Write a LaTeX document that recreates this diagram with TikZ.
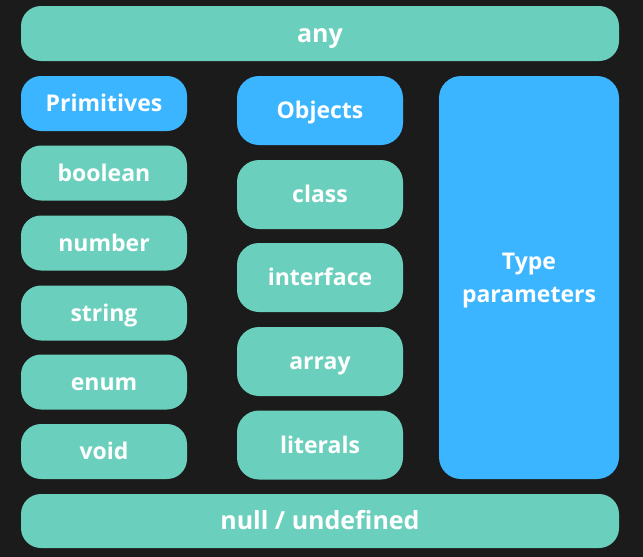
\documentclass[tikz,border=0pt]{standalone}
\usepackage{fontspec}
\setmainfont{Open Sans}
\definecolor{bg}{HTML}{1B1B1B}
\definecolor{teal}{HTML}{6BCFBD}
\definecolor{sky}{HTML}{3BB5FF}
\begin{document}
\begin{tikzpicture}[x=1pt,y=-1pt,
  box/.style={rounded corners=20pt,inner sep=0pt,text=white,align=center,
    font=\fontsize{23}{33.4}\selectfont\bfseries,text height=16.4pt,text depth=0pt},
  tbox/.style={box,fill=teal},
  bbox/.style={box,fill=sky},
  sm/.style={minimum width=166pt,minimum height=55pt},
  md/.style={minimum width=166pt,minimum height=69pt,rounded corners=22pt},
  wide/.style={minimum width=598pt,minimum height=55pt,
    font=\fontsize{25}{33.4}\selectfont\bfseries,text height=17.9pt}]
\fill[bg] (0,0) rectangle (643,557);
\useasboundingbox (0,0) rectangle (643,557);
\node[tbox,wide] (any) at (320,33.5) {any};
\node[bbox,sm] (prim) at (104,103.5) {Primitives};
\node[tbox,sm] (bool) at (104,173) {boolean};
\node[tbox,sm] (num) at (104,243) {number};
\node[tbox,sm] (str) at (104,313) {string};
\node[tbox,sm] (enum) at (104,382) {enum};
\node[tbox,sm] (void) at (104,451.5) {void};
\node[bbox,md] (obj) at (320,110.5) {Objects};
\node[tbox,md] (cls) at (320,194.5) {class};
\node[tbox,md] (intf) at (320,277.5) {interface};
\node[tbox,md] (arr) at (320,361.5) {array};
\node[tbox,md] (lit) at (320,445) {literals};
\node[bbox,minimum width=180pt,minimum height=403pt,rounded corners=22pt,text height=49.8pt,text depth=0pt] (tp) at (529,277.5) {Type\\parameters};
\node[tbox,wide,minimum height=54pt] (null) at (320,521) {null / undefined};
\end{tikzpicture}
\end{document}
